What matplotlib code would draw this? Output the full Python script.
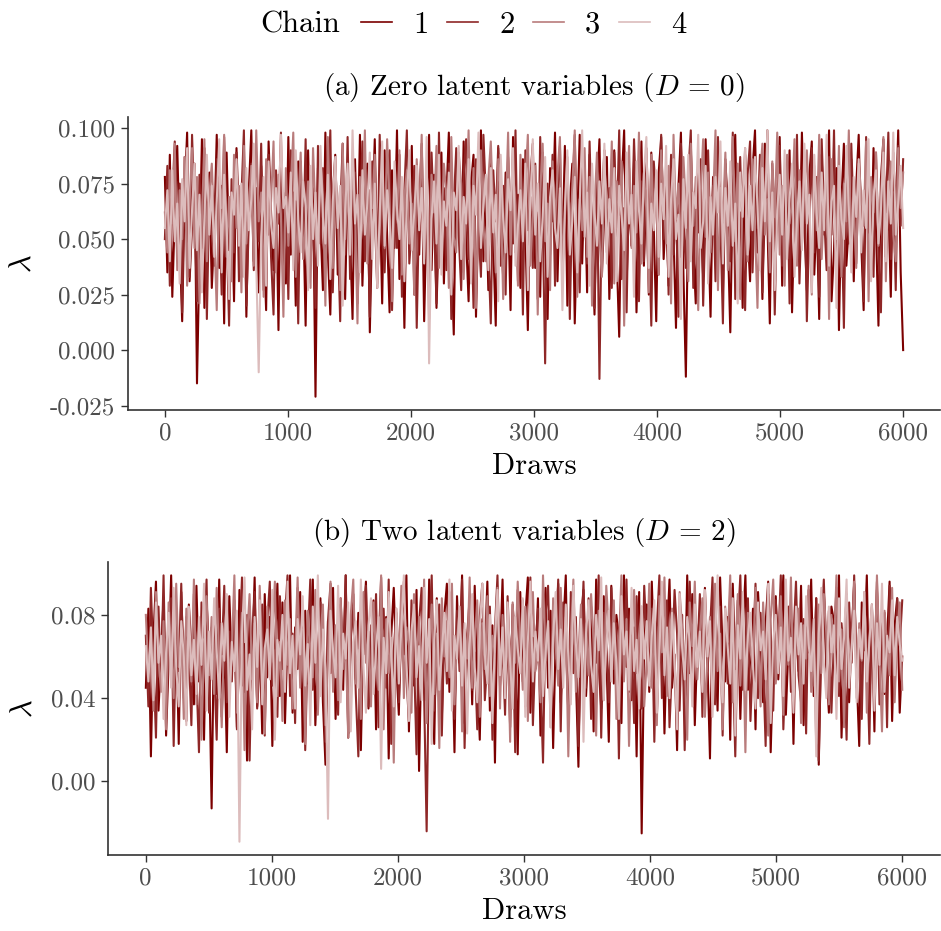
import numpy as np
import matplotlib.pyplot as plt
from matplotlib.lines import Line2D

plt.rcParams['font.family'] = ['cmr10', 'DejaVu Serif']
plt.rcParams['mathtext.fontset'] = 'cm'
plt.rcParams['axes.unicode_minus'] = False
plt.rcParams['axes.formatter.use_mathtext'] = True

# MCMC trace of lambda, 4 chains, thinned to 300 draws per chain (values x 0.001)
n_draws = 6000
chains = ['1', '2', '3', '4']
chain_colors = ['#7C0000', '#8F2727', '#B97C7C', '#DCBCBC']

# (a) D = 0
a1 = [78, 35, 88, 24, 61, 92, 47, 13, 70, 98, 31, 56, 84, -15, 42, 95, 19, 66, 80, 28,
      53, 97, 37, 74, 12, 89, 45, 68, 22, 91, 58, 33, 86, 15, 72, 99, 40, 63, 26, 83,
      50, 18, 94, 62, 36, 77, 9, 87, 55, 30, 96, 43, 71, 20, 85, 48, 64, 11, 90, 39,
      73, -21, 82, 57, 27, 98, 44, 16, 69, 88, 34, 60, 93, 23, 76, 51, 14, 86, 41, 97,
      29, 67, 84, 8, 59, 95, 38, 74, 21, 90, 52, 17, 81, 46, 99, 32, 65, 10, 78, 54,
      92, 25, 70, 43, 87, 13, 61, 97, 36, 79, 19, 56, 89, 30, 68, 98, 42, 7, 83, 59,
      35, 94, 50, 22, 75, 88, 15, 63, 99, 40, 72, 27, 85, 47, 11, 91, 57, 33, 80, 65,
      18, 96, 44, 70, 28, 86, 53, 9, 77, 93, 37, 62, 24, 89, 49, 14, 82, 58, 98, 31,
      73, 45, 92, 20, 66, 84, 12, 57, 97, 39, 79, 26, 88, 51, 16, 71, 95, 34, 63, 87,
      23, 58, 90, 42, 6, 76, 99, 30, 68, 47, 85, 17, 61, 94, 38, 72, 25, 89, 55, 13,
      80, 96, 41, 64, 29, 87, 52, 10, 74, 98, 35, -12, 69, 91, 46, 21, 83, 60, 33, 95,
      57, 15, 78, 43, 92, 67, 26, 86, 50, 8, 73, 97, 39, 62, 19, 88, 54, 31, 81, 99,
      44, 70, 23, 93, 59, 12, 84, 37, 66, 96, 29, 75, 48, 90, 17, 63, 85, 40, 98, 56,
      27, 79, 94, 34, 61, 14, 88, 52, 71, 99, 22, 45, 82, 9, 67, 93, 38, 57, 86, 31,
      74, 97, 49, 18, 83, 62, 36, 91, 55, 11, 77, 95, 42, 68, 24, 89, 60, 99, 35, 0]
a2 = [50, 83, 29, 68, 94, 41, 75, 17, 87, 56, 33, 97, 62, 22, 79, 46, 91, 14, 70, 58,
      38, 86, 65, 25, 96, 53, 11, 77, 44, 89, 31, 69, 99, 20, 58, 84, 36, 73, 49, 93,
      27, 64, 88, 42, 16, 81, 57, 98, 34, 71, 23, 90, 52, 67, 12, 85, 45, 95, 30, 76,
      60, 19, 92, 48, 82, 37, 66, 99, 26, 74, 54, 13, 87, 43, 96, 32, 69, 80, 21, 58,
      94, 40, 71, 15, 85, 62, 28, 97, 51, 35, 78, 90, 18, 64, 46, 88, 24, 72, 99, 39,
      56, 83, 10, 67, 93, 44, 76, 30, 89, 59, 21, 98, 48, 73, 36, 84, 14, 65, 91, 52,
      27, 79, 95, 41, 62, 19, 86, 55, 33, 97, 70, 45, 12, 81, 58, 92, 38, 74, 25, 87,
      63, 48, 99, 31, 77, 16, 90, 54, 69, 37, 84, 23, 96, 60, -6, 75, 43, 88, 29, 66,
      92, 35, 58, 81, 14, 70, 97, 46, 26, 86, 63, 39, 94, 52, 19, 78, -13, 67, 90, 44,
      73, 28, 89, 55, 99, 32, 64, 17, 82, 47, 95, 61, 22, 76, 40, 91, 57, 11, 85, 68,
      34, 97, 50, 79, 25, 88, 43, 66, 15, 93, 59, 37, 80, 99, 28, 71, 53, 86, 20, 62,
      90, 46, 74, 31, 96, 57, 12, 84, 68, 40, 98, 23, 65, 87, 49, 18, 79, 94, 35, 72,
      55, 88, 26, 63, 99, 42, 81, 16, 70, 92, 38, 59, 85, 21, 76, 47, 97, 30, 67, 83,
      13, 58, 91, 44, 78, 24, 95, 61, 36, 87, 52, 99, 29, 73, 64, 10, 86, 48, 93, 57,
      39, 80, 68, 22, 96, 53, 75, 33, 89, 46, 17, 84, 62, 98, 41, 71, 27, 92, 56, 86]
a3 = [62, 44, 81, 57, 93, 36, 72, 50, 87, 29, 66, 91, 46, 78, 21, 59, 95, 40, 70, 84,
      53, 18, 77, 64, 97, 42, 69, 31, 88, 55, 74, 26, 92, 48, 63, 83, 38, 99, 58, 71,
      24, 86, 52, 67, 94, 35, 79, 60, 15, 82, 47, 73, 98, 33, 65, 89, 41, 56, 76, 28,
      91, 61, 45, 85, 70, 20, 96, 54, 37, 80, 68, 27, 93, 50, 74, 43, 87, 62, 12, 78,
      57, 99, 39, 72, 64, 88, 30, 53, 83, 46, 95, 67, 22, 76, 59, 90, 34, 69, 81, 48,
      66, 25, 86, 58, 97, 41, 73, 14, 79, 62, 92, 37, 55, 84, 70, 28, 96, 51, 44, 89,
      75, 32, 63, 99, 47, 82, 19, 68, 90, 56, 40, 77, 94, 61, 35, 86, 72, 23, 59, 98,
      43, 81, 65, 29, 88, 52, 74, 97, 38, 60, 83, 16, 71, 93, 49, 66, 27, 85, 57, 79,
      96, 36, 62, 87, 45, 73, 99, 24, 68, 54, 91, 42, 78, 20, 64, 89, 50, 33, 82, 70,
      58, 94, 30, 76, 61, 85, 11, 67, 92, 46, 74, 53, 98, 39, 80, 63, 26, 88, 55, 72,
      34, 90, 69, 48, 83, 21, 97, 59, 75, 42, 87, 65, 31, 93, 56, 78, 18, 70, 95, 51,
      80, 44, 66, 99, 27, 73, 58, 89, 36, 62, 96, 49, 84, 23, 71, 91, 40, 64, 86, 55,
      19, 77, 93, 52, 68, 35, 85, 60, 98, 43, 74, 29, 88, 57, 66, 95, 38, 81, 47, 72,
      90, 61, 25, 83, 54, 97, 41, 69, 79, 14, 86, 63, 50, 92, 33, 75, 58, 99, 45, 67,
      37, 84, 71, 56, 94, 22, 78, 62, 89, 47, 68, 96, 31, 73, 85, 52, 40, 91, 64, 80]
a4 = [55, 72, 40, 81, 49, 66, 30, 77, 58, 91, 37, 63, 84, 45, 70, 26, 60, 88, 52, 74,
      42, 67, 95, 35, 79, 56, 23, 71, 61, 86, 47, 75, 33, 82, 54, 68, 93, 39, -10, 51,
      78, 29, 85, 57, 46, 73, 62, 97, 64, 69, 53, 80, 36, 90, 59, 44, 76, 65, 27, 83,
      50, 71, 38, 92, 60, 48, 79, 32, 67, 87, 55, 74, 20, 63, 84, 43, 99, 57, 70, 35,
      81, 52, 66, 89, 41, 75, 28, 61, 94, 47, 72, 58, 37, 85, 64, 50, 78, 31, 68, 90,
      45, 62, 83, 54, 73, 39, 96, -6, 59, 76, 48, 88, 34, 67, 56, 80, 25, 71, 63, 92,
      41, 69, 57, 86, 30, 74, 61, 98, 46, 65, 79, 36, 82, 53, 70, 22, 88, 59, 44, 77,
      63, 91, 38, 56, 72, 49, 84, 27, 67, 95, 52, 75, 40, 60, 87, 33, 69, 81, 55, 46,
      73, 18, 64, 90, 43, 58, 78, 35, 66, 99, 51, 71, 29, 84, 62, 47, 76, 57, 93, 39,
      68, 53, 82, 31, 74, 60, 45, 89, 57, 70, 24, 85, 63, 48, 79, 96, 37, 66, 54, 81,
      42, 75, 59, 92, 33, 68, 86, 50, 61, 14, 77, 55, 88, 40, 71, 64, 97, 46, 58, 83,
      30, 69, 52, 78, 62, 94, 39, 73, 56, 85, 47, 66, 21, 80, 60, 91, 43, 74, 54, 87,
      65, 36, 82, 58, 99, 49, 71, 27, 63, 79, 52, 90, 41, 68, 84, 33, 59, 76, 45, 93,
      57, 70, 26, 88, 61, 46, 80, 54, 97, 38, 67, 74, 19, 83, 59, 50, 92, 64, 35, 78,
      60, 86, 44, 72, 55, 95, 31, 69, 81, 48, 63, 89, 40, 76, 57, 98, 52, 66, 83, 55]

# (b) D = 2
b1 = [45, 83, 12, 70, 96, 34, 61, 88, 22, 57, 99, 40, 76, 18, 91, 53, 29, 85, 64, 37,
      94, 48, 73, 20, 87, 59, -13, 80, 42, 97, 31, 68, 14, 89, 55, 75, 26, 92, 46, 66,
      10, 84, 58, 98, 36, 71, 23, 90, 50, 79, 17, 63, 95, 41, 86, 28, 69, 99, 33, 74,
      54, 91, 19, 82, 47, 65, 97, 27, 60, 88, 38, 8, 77, 52, 93, 30, 72, 85, 44, 99,
      21, 67, 90, 49, 81, 15, 74, 96, 35, 58, 87, 25, 63, 98, 42, 79, 11, 70, 93, 56,
      32, 86, 61, 99, 24, 77, 46, 92, 5, 68, 84, 39, 97, 53, 18, 88, 65, 30, 80, 95,
      43, 72, 14, 89, 57, 99, 28, 66, 83, 37, 94, 51, 20, 78, 62, 96, 34, 75, 9, 87,
      59, 97, 40, 71, 26, 85, 64, 13, 91, 48, 79, 98, 33, 69, 54, 88, 22, 76, 93, 45,
      82, 16, 68, 95, 38, 73, 99, 29, 60, 86, 50, 7, 77, 92, 41, 65, 84, 24, 97, 56,
      35, 89, 62, 19, 94, 47, 80, 70, 28, 99, 55, 83, 39, 74, 12, 91, -25, 67, 85, 43,
      96, 58, 31, 78, 88, 23, 69, 97, 45, 61, 15, 84, 73, 36, 99, 52, 90, 27, 66, 81,
      40, 93, 57, 11, 86, 70, 34, 98, 63, 48, 79, 20, 95, 54, 87, 30, 72, 99, 44, 60,
      83, 25, 91, 67, 38, 76, 96, 14, 58, 89, 49, 71, 99, 32, 65, 85, 18, 80, 53, 94,
      27, 74, 62, 97, 41, 88, 8, 69, 92, 55, 33, 84, 77, 46, 99, 21, 64, 90, 38, 71,
      95, 50, 17, 86, 63, 99, 36, 78, 24, 92, 57, 81, 42, 68, 96, 29, 75, 88, 33, 60]
b2 = [70, 36, 93, 58, 21, 84, 47, 99, 30, 66, 88, 17, 75, 53, 95, 40, 79, 62, 27, 90,
      51, 14, 86, 69, 97, 33, 74, 56, 20, 83, 61, 94, 38, 72, 48, 87, 25, 65, 98, 43,
      80, 10, 68, 91, 35, 57, 85, 22, 76, 96, 46, 63, 31, 89, 54, 78, 99, 41, 71, 28,
      93, 60, 82, 15, 67, 97, 44, 73, 37, 86, 52, 19, 77, 95, 49, 64, 32, 88, 58, 99,
      23, 70, 84, 42, 12, 79, 61, 94, 36, 75, 54, 90, 26, 67, 83, 45, 97, 18, 63, 81,
      38, 72, 96, 50, 29, 87, 60, 13, 76, 93, 41, -24, 68, 99, 34, 57, 85, 22, 74, 47,
      91, 65, 30, 82, 53, 97, 16, 70, 88, 44, 62, 25, 79, 95, 39, 58, 84, 20, 73, 99,
      46, 66, 32, 89, 55, 77, 14, 92, 61, 87, 36, 71, 98, 27, 64, 83, 50, 9, 80, 94,
      42, 75, 59, 97, 24, 86, 68, 33, 91, 52, 79, 17, 63, 96, 45, 88, 30, 72, 57, 99,
      21, 81, 66, 38, 93, 54, 76, 11, 85, 62, 97, 43, 70, 28, 89, 58, 35, 94, 67, 48,
      83, 19, 74, 99, 40, 63, 87, 26, 56, 92, 71, 34, 80, 15, 68, 96, 49, 77, 60, 90,
      31, 86, 53, 72, 98, 37, 65, 84, 22, 79, 47, 93, 58, 12, 75, 99, 44, 69, 88, 29,
      62, 95, 40, 81, 56, 17, 90, 73, 34, 87, 66, 99, 25, 59, 84, 43, 70, 96, 51, 38,
      78, 23, 92, 64, 46, 88, 10, 71, 97, 55, 82, 33, 68, 93, 41, 76, 60, 20, 86, 57,
      99, 45, 74, 30, 89, 63, 18, 85, 52, 96, 37, 70, 81, 26, 94, 59, 42, 88, 65, 87]
b3 = [80, 52, 68, 34, 91, 59, 43, 77, 25, 86, 63, 40, 95, 55, 71, 30, 83, 61, 48, 97,
      37, 74, 20, 66, 89, 51, 79, 42, 93, 58, 26, 72, 85, 46, 64, 99, 33, 57, 81, 15,
      69, 90, 49, 76, 38, 94, 60, 23, 84, 53, 71, 96, 41, 67, 29, 87, 56, 78, 35, 62,
      98, 45, 73, 18, 82, 64, 50, 92, 32, 70, 85, 27, 59, 96, 43, 75, 39, 88, 54, 66,
      21, 80, 97, 47, 63, 30, 91, 57, 72, 36, 86, 61, 44, 99, 25, 78, 52, 69, 9, 83,
      58, 94, 40, 74, 65, 33, 90, 56, 79, 47, 97, 28, 64, 85, 42, 71, 16, 88, 60, 77,
      50, 95, 37, 68, 82, 24, 73, 59, 98, 45, 66, 87, 31, 76, 54, 89, 41, 70, 62, 93,
      35, 80, 48, 75, 19, 86, 57, 96, 67, 44, 84, 29, 72, 91, 53, 63, 38, 99, 58, 74,
      26, 88, 65, 46, 93, 55, 79, 12, 70, 97, 43, 61, 85, 34, 76, 51, 90, 68, 22, 82,
      60, 39, 94, 73, 56, 87, 30, 66, 99, 48, 78, 17, 64, 92, 52, 71, 84, 36, 58, 95,
      45, 77, 27, 89, 62, 98, 41, 69, 83, 54, 33, 91, 74, 57, 20, 86, 65, 96, 49, 72,
      88, 31, 60, 79, 44, 95, 53, 71, 25, 84, 67, 99, 38, 58, 90, 46, 76, 14, 81, 63,
      54, 93, 70, 36, 86, 61, 22, 78, 97, 47, 65, 89, 32, 74, 56, 98, 42, 68, 83, 28,
      75, 59, 94, 43, 67, 18, 85, 52, 90, 71, 37, 80, 62, 99, 48, 73, 26, 87, 55, 64,
      96, 40, 76, 58, 91, 33, 69, 84, 47, 99, 60, 24, 82, 66, 51, 93, 38, 72, 86, 44]
b4 = [65, 48, 74, 39, 86, 57, 70, 30, 62, 81, 45, 93, 55, 36, 77, 60, 27, 84, 51, 68,
      42, 79, 56, 95, 34, 72, 49, 88, 63, 40, 76, 58, 90, 31, 67, 53, 82, -29, 71, 98,
      44, 61, 25, 79, 55, 87, 37, 64, 73, 49, 92, 20, 68, 58, 80, 43, 96, 52, 70, 35,
      78, 61, 89, 46, 66, 27, 84, 57, 99, 41, 73, 54, -18, 82, 63, 50, 94, 38, 71, 59,
      86, 24, 67, 77, 45, 97, 56, 33, 75, 88, 42, 64, 79, 6, 69, 52, 91, 60, 36, 83,
      47, 74, 99, 58, 29, 72, 85, 50, 65, 39, 93, 57, 78, 18, 68, 87, 44, 62, 81, 53,
      97, 34, 70, 59, 84, 46, 76, 23, 66, 90, 55, 38, 73, 95, 61, 47, 80, 28, 69, 92,
      51, 74, 40, 86, 57, 35, 79, 64, 52, 88, 31, 67, 96, 48, 72, 58, 83, 41, 62, 77,
      26, 69, 91, 54, 73, 45, 85, 60, 37, 94, 66, 50, 78, 19, 71, 87, 56, 43, 80, 63,
      98, 39, 65, 82, 48, 76, 57, 30, 89, 61, 72, 44, 93, 53, 68, 35, 84, 59, 77, 46,
      70, 87, 33, 62, 96, 51, 74, 40, 81, 58, 25, 90, 64, 49, 79, 67, 36, 85, 55, 72,
      43, 92, 60, 77, 31, 68, 99, 54, 38, 83, 65, 47, 88, 22, 75, 59, 91, 44, 70, 81,
      56, 35, 86, 63, 72, 49, 95, 28, 67, 80, 52, 74, 41, 97, 58, 69, 33, 84, 61, 76,
      47, 89, 66, 53, 78, 12, 71, 93, 57, 40, 84, 62, 75, 30, 88, 54, 69, 97, 45, 64,
      82, 38, 73, 59, 91, 48, 67, 85, 34, 76, 56, 95, 43, 70, 62, 87, 51, 79, 66, 58]

xticks = [0, 1000, 2000, 3000, 4000, 5000, 6000]
yticks_a = [-0.025, 0.0, 0.025, 0.05, 0.075, 0.1]
yticks_b = [0.0, 0.04, 0.08]

fig = plt.figure(figsize=(9.41, 9.31), dpi=100)
ax_a = fig.add_axes([0.136, 0.5596, 0.863, 0.3147])
ax_b = fig.add_axes([0.1148, 0.0816, 0.8842, 0.3147])


def trace(ax, series, yticks, fmt, title):
    draws = np.linspace(1, n_draws, len(series[0]))
    allv = []
    for vals, col in zip(series, chain_colors):
        v = np.array(vals) / 1000
        allv.append(v)
        ax.plot(draws, v, color=col, lw=1.5)
    allv = np.concatenate(allv)
    lo, hi = allv.min(), allv.max()
    pad = 0.05 * (hi - lo)
    ax.set_ylim(lo - pad, hi + pad)
    ax.set_xlim(1 - 0.05 * (n_draws - 1), n_draws + 0.05 * (n_draws - 1))
    ax.set_xticks(xticks)
    ax.set_xticklabels([str(t) for t in xticks])
    ax.set_yticks(yticks)
    ax.set_yticklabels([fmt % t for t in yticks])
    for s in ['top', 'right']:
        ax.spines[s].set_visible(False)
    for s in ['left', 'bottom']:
        ax.spines[s].set_color('#333333')
        ax.spines[s].set_linewidth(1.2)
    ax.tick_params(direction='out', length=5, width=1, color='#333333',
                   labelcolor='#4D4D4D', labelsize=18, pad=4)
    ax.set_xlabel('Draws', fontsize=22, labelpad=6)
    ax.set_ylabel(r'$\lambda$', fontsize=22, labelpad=10)
    ax.set_title(title, fontsize=21, pad=16)


trace(ax_a, [a1, a2, a3, a4], yticks_a, '%.3f',
      r'(a) Zero latent variables ($D\,=\,0$)')
trace(ax_b, [b1, b2, b3, b4], yticks_b, '%.2f',
      r'(b) Two latent variables ($D\,=\,2$)')

# legend across the top
fig.text(260 / 941, 1 - 25 / 931, 'Chain', fontsize=22, ha='left', va='center')
handles = [Line2D([], [], color=c, lw=1.2) for c in chain_colors]
fig.legend(handles, chains, loc='center left', bbox_to_anchor=(361 / 941, 1 - 25 / 931),
           ncol=4, frameon=False, fontsize=22, handlelength=1.0, handletextpad=0.7,
           columnspacing=0.62, borderaxespad=0, borderpad=0)

fig.savefig('out.png', dpi=100)
